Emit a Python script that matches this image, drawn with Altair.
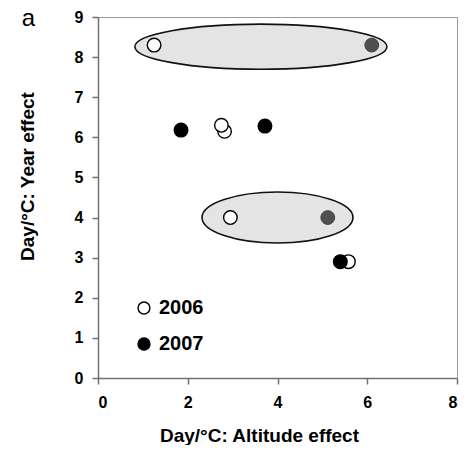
import altair as alt
import pandas as pd

# ---- data ----
years = ["2006", "2006", "2006", "2006", "2006", "2007", "2007", "2007", "2007", "2007"]
altitude_effect = [1.25, 2.82, 2.75, 2.95, 5.58, 1.85, 3.72, 5.40, 6.10, 5.12]
year_effect = [8.30, 6.15, 6.30, 4.00, 2.90, 6.18, 6.28, 2.90, 8.30, 4.00]
grouped = [False, False, False, False, False, False, False, False, True, True]

ell_x = [3.63, 4.00]
ell_y = [8.26, 4.00]
ell_ratio = [0.179, 0.338]      # height/width of ellipse outline
ell_width_px = [252, 151]       # full width in pixels

x_ticks = [0, 2, 4, 6, 8]
y_ticks = [0, 1, 2, 3, 4, 5, 6, 7, 8, 9]
panel_label = "a"

FONT = "Liberation Sans"

pts = pd.DataFrame({"x": altitude_effect, "y": year_effect, "year": years, "grouped": grouped})
main_pts = pts[~pts["grouped"]]
grey_pts = pts[pts["grouped"]]


def ellipse_path(r):
    k = 0.5523
    return (f"M -1 0 C -1 {-k*r:.4f} {-k:.4f} {-r:.4f} 0 {-r:.4f} "
            f"C {k:.4f} {-r:.4f} 1 {-k*r:.4f} 1 0 "
            f"C 1 {k*r:.4f} {k:.4f} {r:.4f} 0 {r:.4f} "
            f"C {-k:.4f} {r:.4f} -1 {k*r:.4f} -1 0 Z")


xs = alt.Scale(domain=[0, 8], nice=False, zero=False)
ys = alt.Scale(domain=[0, 9], nice=False, zero=False)

x_axis = alt.Axis(values=x_ticks, title="Day/°C: Altitude effect", grid=False,
                  tickSize=6, labelPadding=10, labelFontSize=16, labelFont=FONT,
                  labelFontWeight="bold", labelColor="black",
                  titleFont=FONT, titleFontSize=19, titleFontWeight="bold", titleColor="black",
                  titleX=161, titleY=63, titleBaseline="alphabetic", titleAlign="center",
                  domainColor="#707070", domainWidth=1.5, tickColor="#707070", tickWidth=1.5)
y_axis = alt.Axis(values=y_ticks, title="Day/°C: Year effect", grid=False,
                  tickSize=6, labelPadding=9, labelFontSize=16, labelFont=FONT,
                  labelFontWeight="bold", labelColor="black",
                  titleFont=FONT, titleFontSize=19, titleFontWeight="bold", titleColor="black",
                  titleX=-71, titleY=159, titleBaseline="middle", titleAlign="center", titleAngle=-90,
                  domainColor="#707070", domainWidth=1.5, tickColor="#707070", tickWidth=1.5)
label_axis = alt.Axis(orient="top", title=panel_label, labels=False, ticks=False, domain=True,
                      domainColor="#999999", domainWidth=1,
                      grid=False, titleX=-70, titleY=8, titleAlign="center",
                      titleBaseline="alphabetic", titleFont=FONT, titleFontSize=24,
                      titleFontWeight="normal", titleColor="black")
right_axis = alt.Axis(orient="right", title=None, labels=False, ticks=False, domain=True,
                      domainColor="#999999", domainWidth=1, grid=False)

layers = []
for cx, cy, r, w in zip(ell_x, ell_y, ell_ratio, ell_width_px):
    df = pd.DataFrame({"x": [cx], "y": [cy]})
    layers.append(
        alt.Chart(df).mark_point(shape=ellipse_path(r), size=w * w, filled=True,
                                 fill="#e4e4e4", fillOpacity=1, stroke="#111", strokeWidth=1.6, opacity=1)
        .encode(x=alt.X("x:Q", scale=xs, axis=None), y=alt.Y("y:Q", scale=ys, axis=None))
    )

main = alt.Chart(main_pts).mark_point(shape="circle", size=185, filled=True, stroke="black",
                                      strokeWidth=1.4, opacity=1, fillOpacity=1).encode(
    x=alt.X("x:Q", scale=xs, axis=x_axis),
    y=alt.Y("y:Q", scale=ys, axis=y_axis),
    fill=alt.Fill("year:N", scale=alt.Scale(domain=["2006", "2007"], range=["white", "black"]),
                  legend=alt.Legend(title=None, orient="none", legendX=36, legendY=281,
                                    symbolType="circle", symbolSize=140, symbolStrokeColor="black",
                                    symbolStrokeWidth=1.5, labelFontSize=20, labelFont=FONT,
                                    labelFontWeight="bold", labelColor="black", rowPadding=16,
                                    labelOffset=5, padding=0)),
)

grey = alt.Chart(grey_pts).mark_point(shape="circle", size=190, filled=True, fill="#505050",
                                      stroke="#404040", strokeWidth=1, opacity=1, fillOpacity=1).encode(
    x=alt.X("x:Q", scale=xs, axis=None),
    y=alt.Y("y:Q", scale=ys, axis=None),
)

label_layer = alt.Chart(grey_pts).mark_point(opacity=0).encode(
    x=alt.X("x:Q", scale=xs, axis=label_axis),
    y=alt.Y("y:Q", scale=ys, axis=right_axis),
)

chart = alt.layer(*layers, main, grey, label_layer).resolve_axis(
    x="independent", y="independent"
).properties(
    width=359, height=361,
    autosize=alt.AutoSizeParams(type="none"),
    padding={"left": 90, "top": 9, "right": 10, "bottom": 67},
).configure_view(stroke="#999999", strokeWidth=1).configure(background="white")

chart.save("out.html", embed_options={"renderer": "svg", "actions": False})
